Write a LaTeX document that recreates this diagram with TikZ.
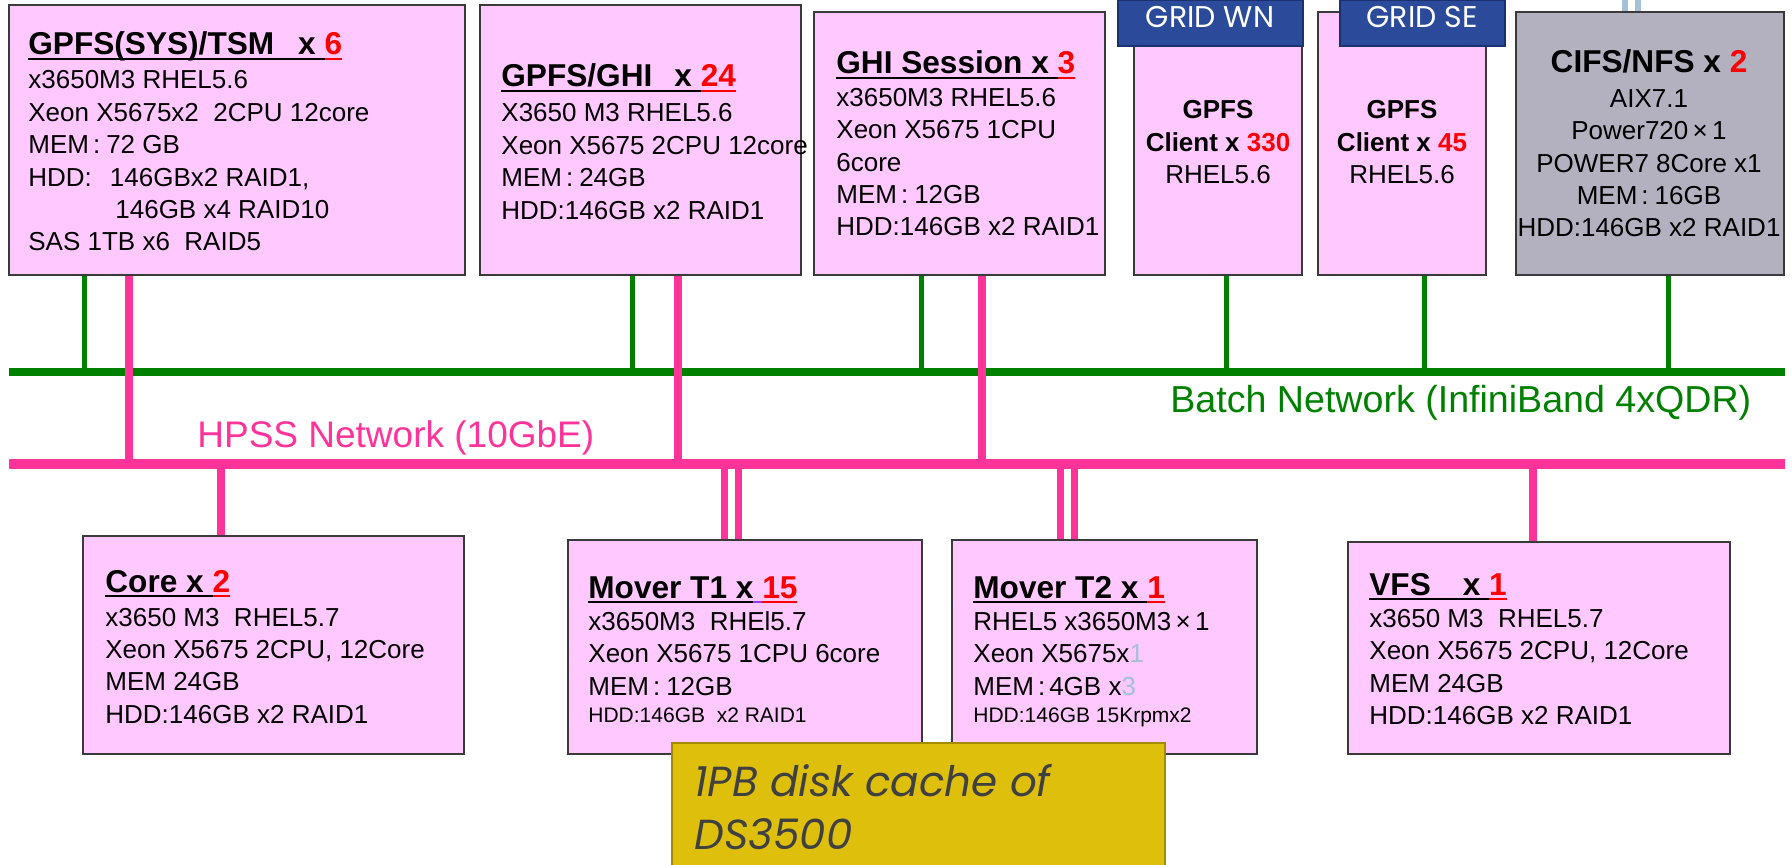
\documentclass[tikz,border=0pt]{standalone}
\usepackage{fontspec}
\setmainfont{Liberation Sans}
\newfontfamily\gothicfont{Poppins}
\usetikzlibrary{fit}
\definecolor{pinkf}{HTML}{FFC8FE}
\definecolor{grayf}{HTML}{B3B1BF}
\definecolor{bordc}{HTML}{3A3A3A}
\definecolor{netgreen}{HTML}{008000}
\definecolor{netpink}{HTML}{FF3399}
\definecolor{gridb}{HTML}{2B4A9A}
\definecolor{gridd}{HTML}{1C3270}
\definecolor{goldf}{HTML}{DEC00C}
\definecolor{goldd}{HTML}{A38C00}
\definecolor{cachetxt}{HTML}{404040}
\definecolor{paleblue}{HTML}{A6C0D6}
\definecolor{ulpurple}{HTML}{9933FF}
\newcommand{\tul}[1]{\setbox0\hbox{#1}\rlap{\rule[-2.6pt]{\wd0}{1pt}}\box0}
\newcommand{\ttl}{\fontsize{15.8}{19}\selectfont\bfseries}
\newcommand{\sml}{\fontsize{10.5}{12}\selectfont}
\newcommand{\rd}[1]{\textcolor{red}{#1}}
\newcommand{\mem}{MEM\hspace{2pt}:\hspace{3pt}}
\tikzset{
  srv/.style={draw=bordc, line width=0.8pt, fill=pinkf, inner sep=0pt},
  gsrv/.style={srv, fill=grayf},
  gridlbl/.style={fill=gridb, draw=gridd, line width=0.8pt, inner sep=0pt},
  gridtxt/.style={anchor=base, inner sep=0pt, text=white, font=\gothicfont\fontsize{15}{18}\selectfont},
  goldbox/.style={fill=goldf, draw=goldd, line width=0.8pt, inner sep=0pt},
  txt/.style={anchor=base west, inner sep=0pt, font=\fontsize{13}{16.2}\selectfont},
  ctxt/.style={anchor=base, inner sep=0pt, font=\fontsize{13}{16.2}\selectfont},
  gnet/.style={draw=netgreen, line width=4pt},
  gstub/.style={draw=netgreen, line width=2.5pt},
  pnet/.style={draw=netpink, line width=5pt},
  pstub/.style={draw=netpink, line width=4pt},
  pdstub/.style={draw=netpink, line width=3.5pt},
  paleline/.style={draw=paleblue, line width=3pt},
}
\begin{document}
\begin{tikzpicture}[x=0.5pt,y=-0.5pt]
\fill[white] (0,0) rectangle (1792,865);
\useasboundingbox (0,0) rectangle (1792,865);

% network backbones
\coordinate (bL) at (9,372);
\coordinate (bR) at (1785,372);
\coordinate (hL) at (9,464);
\coordinate (hR) at (1785,464);
\draw[gnet] (bL) -- (bR);
\draw[pnet] (hL) -- (hR);

% servers (top row)
\node[srv, fit={(9,5) (465,275)}] (b1) {};
\node[srv, fit={(480,5) (801,275)}] (b2) {};
\node[srv, fit={(814,12) (1105,275)}] (b3) {};
\node[srv, fit={(1134,12) (1302,275)}] (b4) {};
\node[srv, fit={(1318,12) (1486,275)}] (b5) {};
\node[gsrv, fit={(1516,12) (1784,275)}] (b6) {};

% servers (bottom row)
\node[srv, fit={(83,536) (464,754)}] (core) {};
\node[srv, fit={(568,540) (922,754)}] (mt1) {};
\node[srv, fit={(952,540) (1257,754)}] (mt2) {};
\node[srv, fit={(1348,542) (1730,754)}] (vfs) {};

% green stubs
\coordinate (g1) at (84,372);
\coordinate (g2) at (632,372);
\coordinate (g3) at (921,372);
\coordinate (g4) at (1226,372);
\coordinate (g5) at (1424,372);
\coordinate (g6) at (1668,372);
\draw[gstub] (g1 |- b1.south) -- (g1);
\draw[gstub] (g2 |- b2.south) -- (g2);
\draw[gstub] (g3 |- b3.south) -- (g3);
\draw[gstub] (g4 |- b4.south) -- (g4);
\draw[gstub] (g5 |- b5.south) -- (g5);
\draw[gstub] (g6 |- b6.south) -- (g6);

% pink stubs (top servers)
\coordinate (p1) at (129,464);
\coordinate (p2) at (678,464);
\coordinate (p3) at (982,464);
\draw[pstub] (p1 |- b1.south) -- (p1);
\draw[pstub] (p2 |- b2.south) -- (p2);
\draw[pstub] (p3 |- b3.south) -- (p3);

% pink stubs (bottom servers)
\coordinate (q1) at (221,464);
\coordinate (q2a) at (724,464);
\coordinate (q2b) at (738,464);
\coordinate (q3a) at (1060,464);
\coordinate (q3b) at (1074,464);
\coordinate (q4) at (1533,464);
\draw[pstub] (q1) -- (q1 |- core.north);
\draw[pdstub] (q2a) -- (q2a |- mt1.north);
\draw[pdstub] (q2b) -- (q2b |- mt1.north);
\draw[pdstub] (q3a) -- (q3a |- mt2.north);
\draw[pdstub] (q3b) -- (q3b |- mt2.north);
\draw[pstub] (q4) -- (q4 |- vfs.north);

% pale lines above CIFS/NFS
\coordinate (u1) at (1625,0);
\coordinate (u2) at (1638,0);
\draw[paleline] (u1) -- (u1 |- b6.north);
\draw[paleline] (u2) -- (u2 |- b6.north);

% GRID labels
\node[gridlbl, fit={(1118,0) (1303,46)}] (gwn) {};
\node[gridlbl, fit={(1340,0) (1505,46)}] (gse) {};
\node[gridtxt] (gwnt) at (1210,28) {GRID WN};
\node[gridtxt] (gset) at (1422,28) {GRID SE};

% network labels
\node[anchor=base west, inner sep=0pt, text=netpink, font=\fontsize{18.5}{22}\selectfont] (hpsslbl) at (197,448) {HPSS Network (10GbE)};
\node[anchor=base west, inner sep=0pt, text=netgreen, font=\fontsize{18.8}{22}\selectfont] (batchlbl) at (1170,413) {Batch Network (InfiniBand 4xQDR)};

% texts top row
\node[txt] (t1) at (28,55) {\begin{tabular}[t]{@{}l@{}}
{\ttl\tul{GPFS(SYS)/TSM\hspace{12pt}x\ }\rd{\tul{6}}}\\[0.8pt]
x3650M3 RHEL5.6\\
Xeon X5675x2\ \ 2CPU 12core\\
\mem 72 GB\\
HDD:\hspace{9pt}146GBx2 RAID1,\\
\hspace*{43.5pt}146GB x4 RAID10\\
SAS 1TB x6\ \ RAID5
\end{tabular}};

\node[txt] (t2) at (501,87) {\begin{tabular}[t]{@{}l@{}}
{\ttl\tul{GPFS/GHI\hspace{11pt}x\ }\rd{\tul{24}}}\\[1.3pt]
X3650 M3 RHEL5.6\\
Xeon X5675 2CPU 12core\\
\mem 24GB\\
HDD:146GB x2 RAID1
\end{tabular}};

\node[txt] (t3) at (836,74) {\begin{tabular}[t]{@{}l@{}}
{\ttl\tul{GHI Session x\ }\rd{\tul{3}}}\\
x3650M3 RHEL5.6\\
Xeon X5675 1CPU\\
6core\\
\mem 12GB\\
HDD:146GB x2 RAID1
\end{tabular}};

\node[ctxt] (t4) at (1218,119) {\begin{tabular}[t]{@{}c@{}}
\textbf{GPFS}\\
\textbf{Client x \rd{330}}\\
RHEL5.6
\end{tabular}};

\node[ctxt] (t5) at (1402,119) {\begin{tabular}[t]{@{}c@{}}
\textbf{GPFS}\\
\textbf{Client x \rd{45}}\\
RHEL5.6
\end{tabular}};

\node[ctxt] (t6) at (1649,73) {\begin{tabular}[t]{@{}c@{}}
{\ttl CIFS/NFS x \rd{2}}\\[1pt]
AIX7.1\\
Power720\,×\,1\\
POWER7 8Core x1\\
\mem 16GB\\
HDD:146GB x2 RAID1
\end{tabular}};

% texts bottom row
\node[txt] (t7) at (105,592) {\begin{tabular}[t]{@{}l@{}}
{\ttl\tul{Core x\ }\rd{\tul{2}}}\\[0.8pt]
x3650 M3\ \ RHEL5.7\\
Xeon X5675 2CPU, 12Core\\
MEM 24GB\\
HDD:146GB x2 RAID1
\end{tabular}};

\node[txt] (t8) at (588,598) {\begin{tabular}[t]{@{}l@{}}
{\ttl\tul{Mover T1 x}\textcolor{ulpurple}{\tul{\ }}\rd{\tul{15}}}\\
x3650M3\ \ RHEl5.7\\
Xeon X5675 1CPU 6core\\
\mem 12GB\\[-2.7pt]
{\sml HDD:146GB\ \ x2 RAID1}
\end{tabular}};

\node[txt] (t9) at (973,598) {\begin{tabular}[t]{@{}l@{}}
{\ttl\tul{Mover T2 x\ }\rd{\tul{1}}}\\
RHEL5 x3650M3\,×\,1\\
Xeon X5675x\textcolor{paleblue}{1}\\
MEM\hspace{2pt}:\hspace{2pt}4GB x\textcolor{paleblue}{3}\\[-2.7pt]
{\sml HDD:146GB 15Krpmx2}
\end{tabular}};

\node[txt] (t10) at (1369,595) {\begin{tabular}[t]{@{}l@{}}
{\ttl\tul{VFS\hspace{16pt}x\ }\rd{\tul{1}}}\\
x3650 M3\ \ RHEL5.7\\
Xeon X5675 2CPU, 12Core\\
MEM 24GB\\
HDD:146GB x2 RAID1
\end{tabular}};

% disk cache
\node[goldbox, fit={(672,743) (1165,872)}] (cache) {};
\node[anchor=base west, inner sep=0pt, text=cachetxt, font=\gothicfont\itshape\fontsize{21}{26.5}\selectfont] (cachet) at (694,796) {\begin{tabular}[t]{@{}l@{}}
1PB disk cache of\\
DS3500
\end{tabular}};
\end{tikzpicture}
\end{document}
